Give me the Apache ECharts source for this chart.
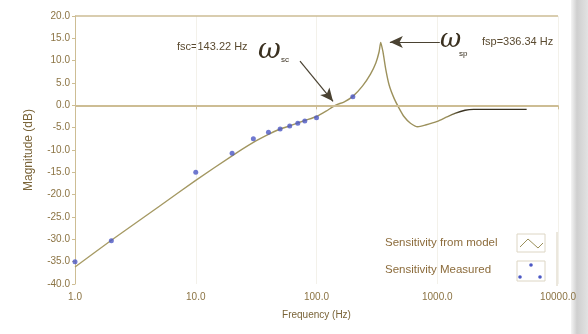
<!DOCTYPE html>
<html><head><meta charset="utf-8">
<script src="https://cdn.jsdelivr.net/npm/echarts/dist/echarts.min.js"></script>
<style>html,body{margin:0;padding:0;background:#fff}#c{width:588px;height:334px}</style>
</head><body><div id="c"></div>
<script>
// ---- data ----
const xTickLabels = ['1.0', '10.0', '100.0', '1000.0', '10000.0'];
const yTickStep = 5;
const modelFreq = [1, 2, 5, 10, 20, 30, 40, 50, 60, 80, 100, 120, 143, 170, 200, 240, 280, 310, 330, 340, 355, 375, 400, 440, 480, 530, 600, 690, 800, 1000, 1200, 1400, 1700, 2000, 3000, 5500];
const modelDb   = [-36.2, -30.2, -22.6, -16.8, -11.3, -8.3, -6.5, -5.3, -4.6, -3.4, -2.5, -1.3, 0, 0.8, 2.0, 4.3, 7, 9.5, 12, 14.1, 12, 8, 4.5, 1.5, -0.5, -2.5, -4, -4.8, -4.4, -3.6, -2.6, -1.8, -1.1, -0.9, -0.9, -0.9];
const measFreq = [1, 2, 10, 20, 30, 40, 50, 60, 70, 80, 100, 200];
const measDb   = [-35, -30.3, -15, -10.7, -7.5, -6.0, -5.3, -4.6, -4.0, -3.5, -2.8, 1.9];
const seriesNames = ['Sensitivity from model', 'Sensitivity Measured'];
const arrowSc = [[73, 9.9], [137, 0.9]];
const arrowSp = [[1050, 14.2], [405, 14.2]];

const tan = '#cdbd94';
const labelColor = '#8c7444';
const font = '"Liberation Sans",Arial,sans-serif';

const chart = echarts.init(document.getElementById('c'), null, {renderer: 'canvas'});
chart.setOption({
  backgroundColor: '#ffffff',
  animation: false,
  grid: {left: 75, right: 30, top: 16, bottom: 50},
  xAxis: {
    type: 'log', logBase: 10, min: 1, max: 10000,
    name: 'Frequency (Hz)', nameLocation: 'middle', nameGap: 26,
    nameTextStyle: {color: '#7a6438', fontSize: 10, fontFamily: font},
    axisLine: {show: false},
    axisTick: {show: true, length: 4, lineStyle: {color: tan}},
    axisLabel: {color: labelColor, fontSize: 10, fontFamily: font, margin: 8,
      formatter: v => xTickLabels[Math.round(Math.log10(v))] || v.toFixed(1)},
    splitLine: {show: true, lineStyle: {color: '#f3f1ea', width: 1}}
  },
  yAxis: {
    type: 'value', min: -40, max: 20, interval: yTickStep,
    name: 'Magnitude (dB)', nameLocation: 'middle', nameGap: 40, nameRotate: 90,
    nameTextStyle: {color: '#7a6438', fontSize: 12, fontFamily: font},
    axisLine: {show: true, lineStyle: {color: tan, width: 1}},
    axisTick: {show: true, length: 3, lineStyle: {color: tan}},
    axisLabel: {color: labelColor, fontSize: 10, fontFamily: font, margin: 5,
      formatter: v => v.toFixed(1)},
    splitLine: {show: false}
  },
  series: [
    {
      name: seriesNames[0], type: 'line', showSymbol: false, smooth: 0.2,
      data: modelFreq.map((f, i) => [f, modelDb[i]]),
      lineStyle: {width: 1.4, color: {
        type: 'linear', x: 0, y: 0, x2: 1, y2: 0,
        colorStops: [{offset: 0, color: '#a89c66'}, {offset: 0.82, color: '#9a8f5a'},
                     {offset: 0.85, color: '#3a3322'}, {offset: 1, color: '#3a3322'}]}},
      z: 3,
      markLine: {
        silent: true, symbol: ['none', 'none'], label: {show: false},
        lineStyle: {color: tan, width: 2, type: 'solid'},
        data: [{yAxis: 0}, {yAxis: 20, lineStyle: {width: 1.5}}]
      }
    },
    {
      name: seriesNames[1], type: 'scatter', symbol: 'circle', symbolSize: 5,
      data: measFreq.map((f, i) => [f, measDb[i]]),
      itemStyle: {color: '#4c58c4'}, z: 4,
      markLine: {
        silent: true, symbol: ['none', 'arrow'], symbolSize: [9, 13], label: {show: false},
        lineStyle: {color: '#4a4232', width: 1.2, type: 'solid'},
        data: [
          [{coord: arrowSc[0]}, {coord: arrowSc[1]}],
          [{coord: arrowSp[0]}, {coord: arrowSp[1]}]
        ]
      }
    }
  ],
  graphic: [
    {type: 'text', left: 177, top: 41, style: {text: 'fsc=143.22 Hz', fill: '#5a4a30', font: '11px ' + font}},
    {type: 'text', left: 258, top: 37, style: {text: 'ω', fill: '#3a3020', font: 'italic 28px "DejaVu Serif",serif'}},
    {type: 'text', left: 281, top: 56, style: {text: 'sc', fill: '#3a3020', font: '8px ' + font}},
    {type: 'text', left: 440, top: 27, style: {text: 'ω', fill: '#3a3020', font: 'italic 26px "DejaVu Serif",serif'}},
    {type: 'text', left: 459, top: 50, style: {text: 'sp', fill: '#3a3020', font: '8px ' + font}},
    {type: 'text', left: 482, top: 36, style: {text: 'fsp=336.34 Hz', fill: '#5a4a30', font: '11px ' + font}},
    // legend
    {type: 'text', left: 385, top: 237, style: {text: seriesNames[0], fill: '#8c6c3c', font: '11.5px ' + font}},
    {type: 'text', left: 385, top: 264, style: {text: seriesNames[1], fill: '#8c6c3c', font: '11.5px ' + font}},
    {type: 'rect', shape: {x: 517, y: 234, width: 28, height: 18}, style: {fill: '#fff', stroke: '#ddd6c4', lineWidth: 1}},
    {type: 'polyline', shape: {points: [[520, 247], [528, 239], [538, 248], [543, 243]]}, style: {stroke: '#9a8f5a', lineWidth: 1, fill: null}},
    {type: 'rect', shape: {x: 517, y: 261, width: 28, height: 20}, style: {fill: '#fff', stroke: '#ddd6c4', lineWidth: 1}},
    {type: 'circle', shape: {cx: 531, cy: 265, r: 1.8}, style: {fill: '#4c58c4'}},
    {type: 'circle', shape: {cx: 520, cy: 277, r: 1.8}, style: {fill: '#4c58c4'}},
    {type: 'circle', shape: {cx: 540, cy: 277, r: 1.8}, style: {fill: '#4c58c4'}},
    {type: 'line', shape: {x1: 557, y1: 232, x2: 557, y2: 286}, style: {stroke: '#d8d0bc', lineWidth: 1}},
    // scan edge
    {type: 'rect', shape: {x: 571, y: 0, width: 17, height: 334}, style: {fill: {
      type: 'linear', x: 0, y: 0, x2: 1, y2: 0,
      colorStops: [{offset: 0, color: '#f4f4f4'}, {offset: 0.35, color: '#cfcfcf'}, {offset: 1, color: '#e2e2e2'}]}}, z: -1}
  ]
});
</script></body></html>
